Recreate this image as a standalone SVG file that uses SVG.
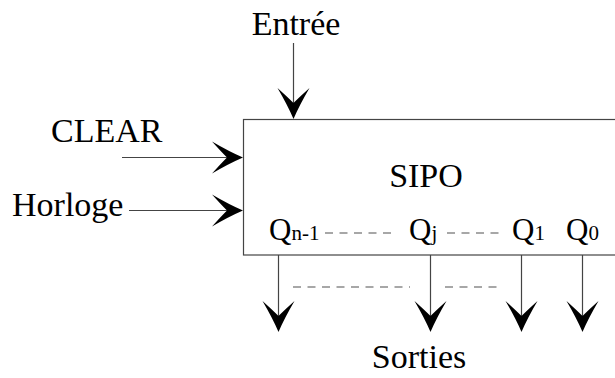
<svg xmlns="http://www.w3.org/2000/svg" width="615" height="378" viewBox="0 0 615 378">
  <style>
    .lbl { font-family: "Liberation Serif", "Times New Roman", serif; font-size: 34px; fill: #000; }
    .q { font-family: "Liberation Serif", "Times New Roman", serif; font-size: 31px; fill: #000; }
    .sub { font-size: 21px; }
    .wire { stroke: #444; stroke-width: 1.2; fill: none; }
    .dots { stroke: #8a8a8a; stroke-width: 1.6; stroke-dasharray: 8 6.5; fill: none; }
    .box { fill: #fff; stroke: #444; stroke-width: 1.2; }
  </style>
  <defs>
    <!-- barbed arrowhead, tip at origin, pointing along +x -->
    <path id="head" d="M0,0 Q-14,-6 -31,-16 Q-22,-6 -16,0 Q-22,6 -31,16 Q-14,6 0,0 Z" fill="#000"/>
  </defs>

  <rect width="615" height="378" fill="#fff"/>

  <!-- register block -->
  <g id="sipo">
    <rect class="box" x="243.5" y="119.5" width="380" height="135.5"/>
    <text class="lbl" x="426" y="187" text-anchor="middle">SIPO</text>
    <text class="q" x="269" y="240">Q<tspan class="sub">n-1</tspan></text>
    <text class="q" x="409" y="240">Q<tspan class="sub">j</tspan></text>
    <text class="q" x="512" y="240">Q<tspan class="sub">1</tspan></text>
    <text class="q" x="566" y="240">Q<tspan class="sub">0</tspan></text>
    <line class="dots" x1="325" y1="233" x2="397" y2="233"/>
    <line class="dots" x1="447" y1="233" x2="502" y2="233"/>
  </g>

  <!-- signal labels -->
  <g id="entree"><text class="lbl" x="296" y="35" text-anchor="middle">Entrée</text></g>
  <g id="clear"><text class="lbl" x="51" y="142">CLEAR</text></g>
  <g id="horloge"><text class="lbl" x="12" y="216">Horloge</text></g>
  <g id="sorties"><text class="lbl" x="419" y="368" text-anchor="middle">Sorties</text></g>

  <!-- connectors -->
  <g id="connectors">
    <line class="wire" x1="293.5" y1="43" x2="293.5" y2="115"/>
    <use href="#head" transform="translate(293.5,119) rotate(90)"/>

    <line class="wire" x1="122" y1="157.5" x2="238" y2="157.5"/>
    <use href="#head" transform="translate(243,157.5)"/>

    <line class="wire" x1="129" y1="210.5" x2="238" y2="210.5"/>
    <use href="#head" transform="translate(243,210.5)"/>

    <line class="wire" x1="278.5" y1="255" x2="278.5" y2="328"/>
    <use href="#head" transform="translate(278.5,332) rotate(90)"/>
    <line class="wire" x1="430.5" y1="255" x2="430.5" y2="328"/>
    <use href="#head" transform="translate(430.5,332) rotate(90)"/>
    <line class="wire" x1="521.5" y1="255" x2="521.5" y2="328"/>
    <use href="#head" transform="translate(521.5,332) rotate(90)"/>
    <line class="wire" x1="582.5" y1="255" x2="582.5" y2="328"/>
    <use href="#head" transform="translate(582.5,332) rotate(90)"/>

    <line class="dots" x1="293" y1="287" x2="410" y2="287"/>
    <line class="dots" x1="445" y1="287" x2="500" y2="287"/>
  </g>
</svg>
